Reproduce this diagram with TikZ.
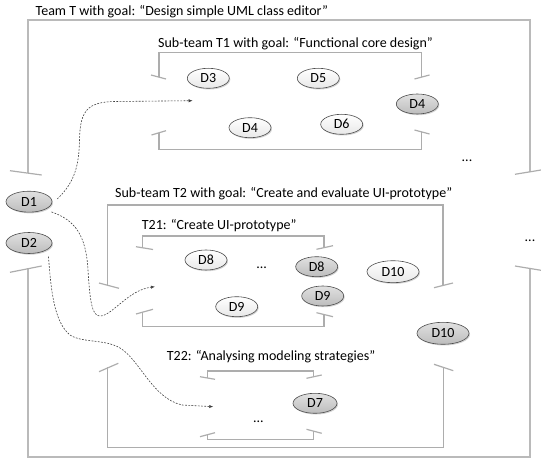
\documentclass[tikz,border=0pt]{standalone}
\usepackage{fontspec}
\setmainfont{Carlito}
\usetikzlibrary{arrows.meta,shadows,shapes.geometric}
\begin{document}
\begin{tikzpicture}[x=1pt,y=-1pt,
  frame/.style={draw=black!32, line width=1.2pt},
  outerframe/.style={draw=black!27, line width=1.7pt},
  lbl/.style={anchor=base west, inner sep=0pt, font=\fontsize{14}{16}\selectfont},
  dd/.style={ellipse, draw=black!70, line width=0.6pt, minimum width=42pt, minimum height=20pt, inner sep=0pt, font=\fontsize{14}{16}\selectfont, drop shadow={opacity=0.35, shadow xshift=1pt, shadow yshift=-1.2pt}},
  light/.style={dd, top color=white, bottom color=black!9},
  dark/.style={dd, top color=black!12, bottom color=black!26},
  dots/.style={anchor=base, inner sep=0pt, font=\fontsize{14}{16}\selectfont},
  dasharrow/.style={draw=black!75, line width=0.6pt, dash pattern=on 1.8pt off 1.4pt, -{Latex[length=4pt,width=3.2pt]}}
]
\useasboundingbox (0,0) rectangle (541,462);

% outer frame (Team T)
\draw[outerframe] (28.3,173) -- (28.3,19.7) -- (530,19.7) -- (530,172);
\draw[frame] (10,170.7) -- (41.7,175);
\draw[frame] (515,174.3) -- (541,170);
\draw[outerframe] (28.3,268.3) -- (28.3,456.7) -- (530,456.7) -- (530,268);
\draw[frame] (10,272.3) -- (41.7,266);
\draw[frame] (515,266) -- (541,270.3);

% T1 frame
\draw[frame] (159,77) -- (159,52.7) -- (421.7,52.7) -- (421.7,77);
\draw[frame] (151,75) -- (166,79);
\draw[frame] (414.5,79) -- (429.5,75);
\draw[frame] (159,133) -- (159,149.3) -- (421.7,149.3) -- (421.7,132);
\draw[frame] (151.5,135) -- (166,130.7);
\draw[frame] (414.5,130) -- (429.5,134);

% T2 frame
\draw[frame] (107.3,285.5) -- (107.3,205) -- (443,205) -- (443,285.5);
\draw[frame] (99,283) -- (119,288.3);
\draw[frame] (434,287.7) -- (453,283);
\draw[frame] (107.5,367.5) -- (107.5,447.3) -- (443.3,447.3) -- (443.3,367.5);
\draw[frame] (99,371.7) -- (118.3,363.3);
\draw[frame] (434,364.3) -- (453.3,370.7);

% T21 frame
\draw[frame] (142.7,248) -- (142.7,236) -- (324,236) -- (324,247.5);
\draw[frame] (136,246.7) -- (153,249.5);
\draw[frame] (316.5,249.3) -- (333,245.7);
\draw[frame] (142.7,311.7) -- (142.7,326.7) -- (324,326.7) -- (324,314.5);
\draw[frame] (136,314) -- (153,309.3);
\draw[frame] (316.5,312.7) -- (333,316.7);

% T22 frame
\draw[frame] (207.7,378) -- (207.7,371) -- (313.3,371) -- (313.3,377);
\draw[frame] (200,376.7) -- (215,379.3);
\draw[frame] (306.5,378.3) -- (321.7,375);
\draw[frame] (207.7,434.5) -- (207.7,439.3) -- (313.3,439.3) -- (313.3,431);
\draw[frame] (200,436.7) -- (215,432.7);
\draw[frame] (306.5,429.3) -- (321.7,433.3);

% labels
\node[lbl] (tT) at (35.5,16) {Team T with goal: “Design simple UML class editor”};
\node[lbl] (tT1) at (158,47.3) {Sub-team T1 with goal: “Functional core design”};
\node[lbl] (tT2) at (115,197.7) {Sub-team T2 with goal: “Create and evaluate UI-prototype”};
\node[lbl] (tT21) at (141.7,230) {T21: “Create UI-prototype”};
\node[lbl] (tT22) at (166.7,361) {T22: “Analysing modeling strategies”};

% dots
\node[dots] (dt1) at (467,162) {...};
\node[dots] (dtT) at (530,242) {...};
\node[dots] (dt21) at (261.7,269) {...};
\node[dots] (dt22) at (258.3,422) {...};

% decisions
\node[light] (d3) at (208.3,78.3) {D3};
\node[light] (d5) at (318.3,78.3) {D5};
\node[dark] (d4b) at (417.3,104) {D4};
\node[light] (d4a) at (250,127.7) {D4};
\node[light] (d6) at (341.7,124.3) {D6};
\node[dark, minimum width=46pt, minimum height=21pt] (d1) at (29,201.7) {D1};
\node[dark, minimum width=46pt, minimum height=21pt] (d2) at (29,243) {D2};
\node[light] (d8a) at (206,260) {D8};
\node[dark] (d8b) at (316.7,266.7) {D8};
\node[light] (d9a) at (236.7,306.7) {D9};
\node[dark] (d9b) at (322.7,296) {D9};
\node[light, minimum width=52pt, minimum height=22pt] (d10a) at (393,271.7) {D10};
\node[dark, minimum width=52pt, minimum height=22pt] (d10b) at (443,333.3) {D10};
\node[dark, minimum width=44pt] (d7) at (315,403.3) {D7};

% arrow targets
\coordinate (a1) at (192.7,100.7);
\coordinate (a2) at (155,286.7);
\coordinate (a3) at (213.3,406.7);

\draw[dasharrow] ([shift={(5,-2.7)}]d1.east) .. controls (75,182) and (79,165) .. (79.5,140)
  .. controls (80,110) and (88,102) .. (115,101.5) -- (a1);
\draw[dasharrow] ([shift={(6,2.6)}]d1.south east) .. controls (75,220) and (86,235) .. (88,270)
  .. controls (90,302) and (92,316) .. (100,316) .. controls (112,316) and (128,290) .. (a2);
\draw[dasharrow] ([shift={(3,6)}]d2.south east) .. controls (51,290) and (54,322) .. (70,335)
  .. controls (82,343) and (105,339) .. (120,348) .. controls (140,360) and (152,398) .. (182,405) -- (a3);
\end{tikzpicture}
\end{document}
